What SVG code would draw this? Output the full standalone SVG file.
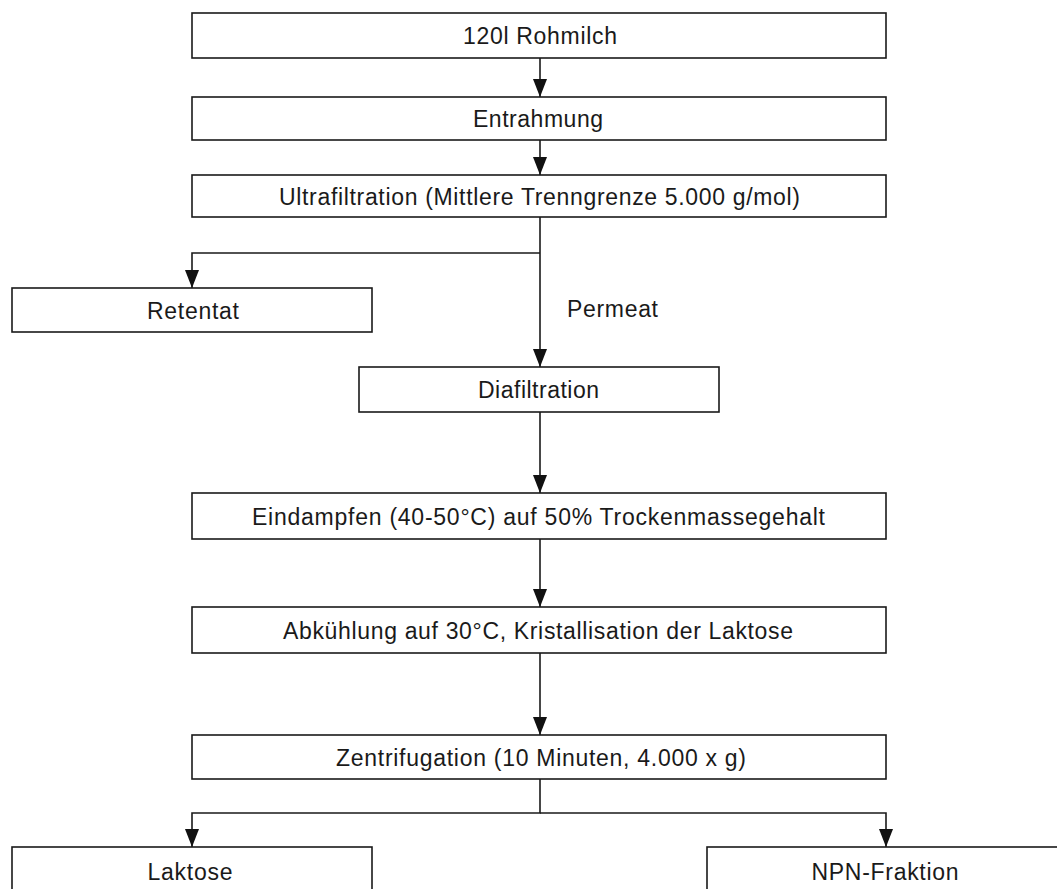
<svg xmlns="http://www.w3.org/2000/svg" width="1057" height="889" viewBox="0 0 1057 889">
<defs>
<style>
.box{fill:#fff;stroke:#1a1a1a;stroke-width:1.6}
.lbl{font-family:"Liberation Sans",Arial,sans-serif;font-size:23px;fill:#1a1a1a;text-anchor:middle}
.con{fill:none;stroke:#1a1a1a;stroke-width:1.6}
</style>
<marker id="ah" markerUnits="userSpaceOnUse" markerWidth="18" markerHeight="14" viewBox="0 0 18 14" refX="18" refY="7" orient="auto">
<path d="M0,0 L18,7 L0,14 Z" fill="#111"/>
</marker>
</defs>
<rect width="1057" height="889" fill="#fff"/>
<g id="connectors">
<path class="con" d="M540,58 V97" marker-end="url(#ah)"/>
<path class="con" d="M540,140 V175" marker-end="url(#ah)"/>
<path class="con" d="M540,217 V367" marker-end="url(#ah)"/>
<path class="con" d="M540,253 H192 V288" marker-end="url(#ah)"/>
<path class="con" d="M540,412 V493" marker-end="url(#ah)"/>
<path class="con" d="M540,539 V607" marker-end="url(#ah)"/>
<path class="con" d="M540,653 V735" marker-end="url(#ah)"/>
<path class="con" d="M540,779 V813 H192 V847" marker-end="url(#ah)"/>
<path class="con" d="M540,813 H886 V847" marker-end="url(#ah)"/>
<text class="lbl" x="567" y="317" style="text-anchor:start" textLength="91">Permeat</text>
</g>
<g id="n1"><rect class="box" x="192" y="13" width="694" height="45"/><text class="lbl" x="540" y="44" textLength="154">120l Rohmilch</text></g>
<g id="n2"><rect class="box" x="192" y="97" width="694" height="43"/><text class="lbl" x="538" y="127" textLength="130">Entrahmung</text></g>
<g id="n3"><rect class="box" x="192" y="175" width="694" height="42"/><text class="lbl" x="539.5" y="205" textLength="521">Ultrafiltration (Mittlere Trenngrenze 5.000 g/mol)</text></g>
<g id="n4"><rect class="box" x="12" y="288" width="360" height="44"/><text class="lbl" x="193" y="319" textLength="92">Retentat</text></g>
<g id="n5"><rect class="box" x="359" y="367" width="360" height="45"/><text class="lbl" x="538.5" y="398" textLength="121">Diafiltration</text></g>
<g id="n6"><rect class="box" x="192" y="493" width="694" height="46"/><text class="lbl" x="538.5" y="525" textLength="573">Eindampfen (40-50°C) auf 50% Trockenmassegehalt</text></g>
<g id="n7"><rect class="box" x="192" y="607" width="694" height="46"/><text class="lbl" x="538" y="639" textLength="510">Abkühlung auf 30°C, Kristallisation der Laktose</text></g>
<g id="n8"><rect class="box" x="192" y="735" width="694" height="44"/><text class="lbl" x="541" y="766" textLength="410">Zentrifugation (10 Minuten, 4.000 x g)</text></g>
<g id="n9"><rect class="box" x="12" y="847" width="360" height="60"/><text class="lbl" x="190" y="880" textLength="85">Laktose</text></g>
<g id="n10"><rect class="box" x="707" y="847" width="380" height="60"/><text class="lbl" x="885" y="880" textLength="147">NPN-Fraktion</text></g>
</svg>
